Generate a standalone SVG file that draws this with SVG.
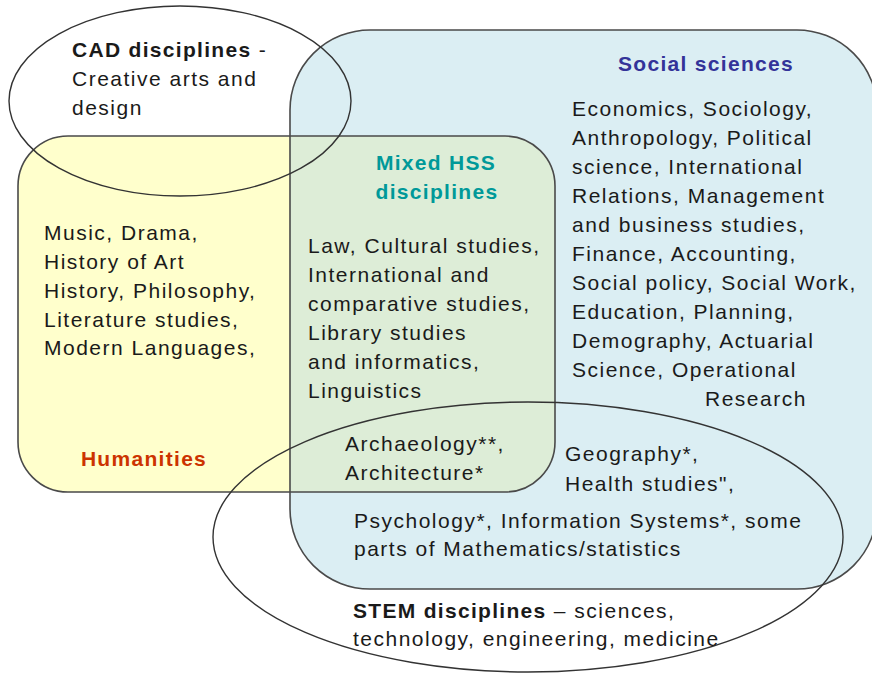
<svg xmlns="http://www.w3.org/2000/svg" width="872" height="678" viewBox="0 0 872 678">
  <style>
    text { font-family: "Liberation Sans", Arial, sans-serif; font-size: 21px; letter-spacing: 1.5px; fill: #1a1a1a; }
    .b { font-weight: bold; letter-spacing: 1.3px; }
    .title { font-weight: bold; text-anchor: middle; letter-spacing: 1.3px; }
    .box { stroke: #4a4a4a; stroke-width: 1.6; fill: none; }
    .ell { stroke: #333; stroke-width: 1.4; fill: none; }
  </style>
  <defs>
    <rect id="humRect" x="18" y="136" width="537" height="356" rx="50" ry="50"/>
    <rect id="socRect" x="290" y="30" width="587" height="559" rx="80" ry="80"/>
    <clipPath id="socClip"><use href="#socRect"/></clipPath>
  </defs>
  <rect width="872" height="678" fill="#ffffff"/>

  <!-- Region fills: humanities, social sciences, and their overlap (mixed HSS) -->
  <g id="fills">
    <use href="#humRect" fill="#ffffcc"/>
    <use href="#socRect" fill="#dbeef3"/>
    <use href="#humRect" fill="#ddedd7" clip-path="url(#socClip)"/>
  </g>

  <g id="humanities">
    <use href="#humRect" class="box"/>
    <text x="44" y="240">Music, Drama,</text>
    <text x="44" y="269">History of Art</text>
    <text x="44" y="298">History, Philosophy,</text>
    <text x="44" y="327">Literature studies,</text>
    <text x="44" y="355">Modern Languages,</text>
    <text class="title" x="144" y="466" style="fill:#cc3300">Humanities</text>
  </g>

  <g id="social-sciences">
    <use href="#socRect" class="box"/>
    <text class="title" x="706" y="71" style="fill:#333399">Social sciences</text>
    <text x="572" y="116">Economics, Sociology,</text>
    <text x="572" y="145">Anthropology, Political</text>
    <text x="572" y="174">science, International</text>
    <text x="572" y="203">Relations, Management</text>
    <text x="572" y="232">and business studies,</text>
    <text x="572" y="261">Finance, Accounting,</text>
    <text x="572" y="290">Social policy, Social Work,</text>
    <text x="572" y="319">Education, Planning,</text>
    <text x="572" y="348">Demography, Actuarial</text>
    <text x="572" y="377">Science, Operational</text>
    <text x="705" y="406">Research</text>
  </g>

  <g id="mixed-hss">
    <text class="title" x="436" y="170" style="fill:#009999">Mixed HSS</text>
    <text class="title" x="437" y="199" style="fill:#009999">disciplines</text>
    <text x="308" y="253">Law, Cultural studies,</text>
    <text x="308" y="282">International and</text>
    <text x="308" y="311">comparative studies,</text>
    <text x="308" y="340">Library studies</text>
    <text x="308" y="369">and informatics,</text>
    <text x="308" y="398">Linguistics</text>
    <text x="345" y="451">Archaeology**,</text>
    <text x="345" y="480">Architecture*</text>
  </g>

  <g id="overlap-stem-social">
    <text x="565" y="461">Geography*,</text>
    <text x="565" y="491">Health studies",</text>
    <text x="354" y="528">Psychology*, Information Systems*, some</text>
    <text x="354" y="556">parts of Mathematics/statistics</text>
  </g>

  <g id="cad">
    <ellipse class="ell" cx="180" cy="101" rx="171" ry="95"/>
    <text x="72" y="57"><tspan class="b">CAD disciplines</tspan> -</text>
    <text x="72" y="86">Creative arts and</text>
    <text x="72" y="115">design</text>
  </g>

  <g id="stem">
    <ellipse class="ell" cx="528" cy="537" rx="315" ry="135"/>
    <text x="353" y="618"><tspan class="b">STEM disciplines</tspan> – sciences,</text>
    <text x="353" y="646">technology, engineering, medicine</text>
  </g>
</svg>
